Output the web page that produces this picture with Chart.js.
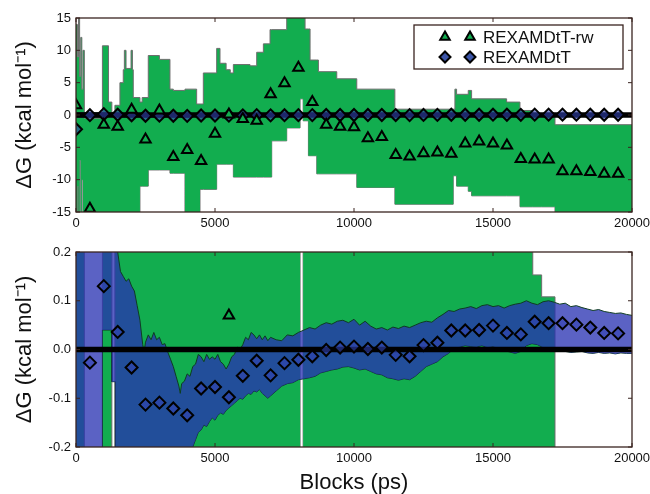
<!DOCTYPE html>
<html lang="en">
<head>
<meta charset="UTF-8" />
<title>Block free energies</title>
<style>
  body { margin: 0; background: #fff; }
  canvas { position: absolute; left: 0; }
  #topPanel { top: 0; }
  #bottomPanel { top: 232px; }
</style>
</head>
<body>

<canvas id="topPanel" width="650" height="232"></canvas>
<canvas id="bottomPanel" width="650" height="262"></canvas>

<script src="https://cdn.jsdelivr.net/npm/chart.js"></script>
<script>
  // ---- data ----
  const xTicks = [0, 5000, 10000, 15000, 20000];
  const topYTicks = [-15, -10, -5, 0, 5, 10, 15];
  const topYLabels = ['-15', '-10', '-5', '0', '5', '10', '15'];
  const bottomYTicks = [-0.2, -0.1, 0, 0.1, 0.2];
  const bottomYLabels = ['-0.2', '-0.1', '0.0', '0.1', '0.2'];

  // block end times (ps)
  const blockX = [0, 500, 1000, 1500, 2000, 2500, 3000, 3500, 4000, 4500,
    5000, 5500, 6000, 6500, 7000, 7500, 8000, 8500, 9000, 9500,
    10000, 10500, 11000, 11500, 12000, 12500, 13000, 13500, 14000, 14500,
    15000, 15500, 16000, 16500, 17000, 17500, 18000, 18500, 19000, 19500];

  // REXAMDtT-rw (triangles)
  const rwDeltaG = [1.5, -14.5, -1.5, -1.8, 0.8, -3.8, 0.7, -6.5, -5.4, -7.1,
    -2.9, 0.07, -0.6, -0.9, 3.2, 4.9, 7.3, 2.0, -1.5, -1.8,
    -1.9, -3.6, -3.4, -6.2, -6.4, -5.9, -5.8, -6.0, -4.4, -4.1,
    -4.4, -4.7, -6.8, -6.9, -6.9, -8.7, -8.7, -8.8, -9.1, -9.1];

  // REXAMDtT (diamonds)
  const tDeltaG = [-2.2, -0.027, 0.13, 0.036, -0.037, -0.113, -0.109, -0.121, -0.135, -0.080,
    -0.077, -0.098, -0.054, -0.023, -0.053, -0.028, -0.021, -0.014, -0.001, 0.004,
    0.006, 0.001, 0.004, -0.011, -0.014, 0.009, 0.014, 0.039, 0.039, 0.040,
    0.049, 0.034, 0.031, 0.057, 0.054, 0.054, 0.051, 0.045, 0.034, 0.033];

  // REXAMDtT-rw error envelope (each value holds until the next x)
  const greenX = [0, 50, 90, 130, 170, 210, 250, 300,
    950, 1170, 1290, 1400, 1580, 1700, 1740, 1800, 1980, 2030,
    2060, 2300, 2380, 2600, 3000, 3380, 3500, 3920, 4340, 4460,
    4580, 5060, 5180, 5400, 5550, 5660, 6260, 6500, 6740, 6980,
    7040, 7580, 8060, 8170, 8240, 8360, 8420, 8660, 8720, 9380,
    10100, 11470, 13570, 13630, 13690, 14110, 14230, 15490, 15970, 16430,
    16750, 17230, 20000];
  const greenUpper = [14, 9, 15.5, 6, 12, 4, 10, -0.5,
    10.7, 2, -0.3, 1.5, 5, 7, 10, 7.2, 10, 7,
    2.7, 2.0, 2.7, 9.2, 8.6, 4.0, 3.8, 4.0, 1.7, 1.7,
    6.5, 10.3, 8, 7, 6.5, 7.8, 7.6, 9.7, 11, 13.2,
    13.2, 15.5, 15.5, 15.5, 13.3, 13.3, 8.5, 8.5, 6.7, 5.6,
    4.0, 0.9, 0.9, 4.0, 3.2, 3.8, 2.5, 2.0, 0.7, 0.153,
    0.108, -1.5, -1.5];
  const greenLower = [-15.5, -11, -15.5, -7, -15.5, -10, -15.5, -15.5,
    -15.5, -15.5, -15.5, -15.5, -15.5, -15.5, -15.5, -15.5, -15.5, -15.5,
    -15.5, -11, -11, -8.5, -8.5, -9, -9, -15.5, -15.5, -11.5,
    -11.5, -7.6, -7.6, -7.6, -7.6, -9.6, -9.6, -9.6, -9.6, -9.6,
    -4, -2, 2.5, -0.9, -0.9, -6.3, -6.3, -9.1, -9.1, -9.1,
    -11.2, -13.8, -9.4, -9.4, -11, -11.8, -12.5, -12.5, -14.2, -14.2,
    -14.2, -16, -16];

  // REXAMDtT error envelope
  const blueX = [0, 945, 950, 1285, 1290, 1415, 1420,
    1460, 1500, 1600, 1700, 1800, 1900, 2000, 2100, 2200, 2300,
    2400, 2450, 2500, 2600, 2700, 2800, 2900, 3000, 3100, 3200,
    3300, 3400, 3500, 3600, 3700, 3750, 3800, 3900, 4000, 4100,
    4200, 4300, 4400, 4500, 4600, 4700, 4800, 4900, 5000, 5100,
    5200, 5300, 5400, 5500, 5600, 5700, 5800, 5900, 6000, 6100,
    6200, 6300, 6400, 6500, 6600, 6700, 6800, 6900,
    7000, 7200, 7400, 7600, 7800, 8000, 8200, 8400, 8600, 8800,
    9000, 9200, 9400, 9600, 9800, 10000, 10200, 10400, 10600, 10800,
    11000, 11200, 11400, 11600, 11800, 12000, 12200, 12400, 12600, 12800,
    13000, 13200, 13400, 13600, 13800, 14000, 14200, 14400, 14600, 14800,
    15000, 15200, 15400, 15600, 15800, 16000, 16200, 16400, 16600, 16800,
    17000, 17200, 17400, 17600, 17800, 18000, 18200, 18400, 18600, 18800,
    19000, 19200, 19400, 19600, 19800, 20000];
  const blueUpper = [0.35, 0.35, 0.35, 0.35, 0.35, 0.35, 0.35,
    0.25, 0.2, 0.16, 0.15, 0.14, 0.145, 0.13, 0.12, 0.09, 0.06,
    0.01, -0.005, 0.015, 0.03, 0.02, 0.035, 0.02, 0.025, 0.01, 0.012,
    -0.005, -0.02, -0.035, -0.055, -0.075, -0.09, -0.07, -0.065, -0.05, -0.055,
    -0.035, -0.03, -0.01, -0.015, -0.025, -0.01, -0.02, -0.015, -0.02, -0.01,
    -0.025, -0.03, -0.04, -0.03, -0.015, -0.01, 0.005, 0.0, 0.01, 0.025,
    0.02, 0.035, 0.03, 0.022, 0.03, 0.02, 0.028, 0.018,
    0.025, 0.02, 0.018, 0.03, 0.028, 0.035, 0.04, 0.045, 0.042, 0.05,
    0.055, 0.052, 0.058, 0.06, 0.055, 0.062, 0.05, 0.058, 0.048, 0.042,
    0.045, 0.04, 0.046, 0.043, 0.048, 0.045, 0.05, 0.055, 0.058, 0.056,
    0.065, 0.072, 0.08, 0.078, 0.083, 0.085, 0.088, 0.084, 0.09, 0.092,
    0.088, 0.09, 0.085, 0.09, 0.093, 0.095, 0.1, 0.095, 0.092, 0.098,
    0.1, 0.097, 0.093, 0.095, 0.088, 0.09, 0.086, 0.083, 0.08, 0.082,
    0.078, 0.076, 0.074, 0.075, 0.072, 0.07];
  const blueLower = [-0.35, -0.35, 0.04, 0.04, -0.066, -0.066, -0.35,
    -0.35, -0.35, -0.35, -0.35, -0.35, -0.35, -0.35, -0.35, -0.35, -0.35,
    -0.35, -0.35, -0.35, -0.35, -0.35, -0.35, -0.35, -0.35, -0.35, -0.35,
    -0.35, -0.35, -0.35, -0.35, -0.35, -0.35, -0.35, -0.35, -0.35, -0.35,
    -0.2, -0.185, -0.17, -0.165, -0.155, -0.158, -0.148, -0.14, -0.145, -0.135,
    -0.13, -0.133, -0.125, -0.12, -0.115, -0.11, -0.105, -0.1, -0.102, -0.095,
    -0.09, -0.092, -0.085, -0.087, -0.082, -0.09, -0.095, -0.1,
    -0.095, -0.085, -0.075, -0.07, -0.068, -0.062, -0.06, -0.058, -0.055, -0.048,
    -0.045, -0.042, -0.04, -0.036, -0.035, -0.038, -0.042, -0.04, -0.045, -0.05,
    -0.052, -0.058, -0.06, -0.063, -0.06, -0.062, -0.055, -0.045, -0.035, -0.03,
    -0.025, -0.015, -0.008, 0.002, 0.005, 0.008, 0.006, 0.005, 0.008, 0.004,
    0.006, 0.002, -0.002, -0.005, -0.008, -0.004, 0.008, 0.012, 0.01, 0.004,
    0.002, 0.0, -0.002, -0.004, -0.006, -0.005, -0.004, -0.007, -0.008, -0.006,
    -0.008, -0.007, -0.009, -0.007, -0.008, -0.008];

  // ---- styling ----
  const GREEN = '#12ad4f';
  const BLUE_FILL = 'rgba(40, 48, 178, 0.76)';
  const BLUE_FACE = 'rgba(50, 66, 178, 0.6)';
  const FRAME = '#3a2420';
  const TEXT = '#111';
  const FONT = 'Liberation Sans, Arial, sans-serif';

  Chart.defaults.font.family = FONT;
  Chart.defaults.color = TEXT;

  function pts(xs, ys) {
    return xs.map((x, i) => ({ x: x, y: ys[i] }));
  }

  function buildDatasets() {
    return [
      {
        label: 'REXAMDtT-rw', data: pts(blockX, rwDeltaG), showLine: false,
        pointStyle: 'triangle', pointRadius: 6, pointBorderWidth: 2,
        pointBackgroundColor: GREEN, pointBorderColor: '#000', clip: 0
      },
      {
        label: 'REXAMDtT', data: pts(blockX, tDeltaG), showLine: false,
        pointStyle: 'rectRot', pointRadius: 6, pointBorderWidth: 2,
        pointBackgroundColor: BLUE_FACE, pointBorderColor: '#000', clip: 0
      },
      {
        label: 'zero', data: [{ x: 0, y: 0 }, { x: 20000, y: 0 }],
        borderColor: '#000', borderWidth: 5.5, pointRadius: 0, clip: 0
      },
      {
        label: 'tUpper', data: pts(blueX, blueUpper), borderColor: '#0f3d22',
        borderWidth: 1, pointRadius: 0, fill: '+1', backgroundColor: BLUE_FILL, clip: 0
      },
      {
        label: 'tLower', data: pts(blueX, blueLower), borderColor: '#0f3d22',
        borderWidth: 1, pointRadius: 0, fill: false, clip: 0
      },
      {
        label: 'rwUpper', data: pts(greenX, greenUpper), stepped: 'before', borderColor: '#6e6e6e',
        borderWidth: 1, pointRadius: 0, fill: '+1', backgroundColor: GREEN, clip: 0
      },
      {
        label: 'rwLower', data: pts(greenX, greenLower), stepped: 'before', borderColor: '#6e6e6e',
        borderWidth: 1, pointRadius: 0, fill: false, clip: 0
      }
    ];
  }

  // frame with inward ticks on all four sides
  const framePlugin = {
    id: 'frame',
    afterDatasetsDraw(chart) {
      const { ctx, chartArea: a, scales: { x, y } } = chart;
      ctx.save();
      ctx.strokeStyle = FRAME;
      ctx.lineWidth = 1;
      ctx.beginPath();
      x.ticks.forEach(t => {
        const px = x.getPixelForValue(t.value);
        ctx.moveTo(px, a.bottom); ctx.lineTo(px, a.bottom - 4);
        ctx.moveTo(px, a.top); ctx.lineTo(px, a.top + 4);
      });
      y.ticks.forEach(t => {
        const py = y.getPixelForValue(t.value);
        ctx.moveTo(a.left, py); ctx.lineTo(a.left + 4, py);
        ctx.moveTo(a.right, py); ctx.lineTo(a.right - 4, py);
      });
      ctx.stroke();
      ctx.lineWidth = 1.3;
      ctx.strokeRect(a.left, a.top, a.right - a.left, a.bottom - a.top);
      ctx.restore();
    }
  };

  function drawMarker(ctx, style, cx, cy, r) {
    ctx.beginPath();
    if (style === 'triangle') {
      ctx.moveTo(cx, cy - r);
      ctx.lineTo(cx + r * 0.866, cy + r * 0.5);
      ctx.lineTo(cx - r * 0.866, cy + r * 0.5);
    } else {
      ctx.moveTo(cx, cy - r);
      ctx.lineTo(cx + r, cy);
      ctx.lineTo(cx, cy + r);
      ctx.lineTo(cx - r, cy);
    }
    ctx.closePath();
    ctx.fill();
    ctx.stroke();
  }

  const legendItems = [
    { text: 'REXAMDtT-rw', style: 'triangle', face: GREEN },
    { text: 'REXAMDtT', style: 'diamond', face: '#3c55a8' }
  ];

  const boxLegend = {
    id: 'boxLegend',
    afterDraw(chart) {
      const { ctx, chartArea: a } = chart;
      const w = 209, h = 44;
      const left = a.right - 9 - w, top = a.top + 7;
      ctx.save();
      ctx.fillStyle = '#fff';
      ctx.fillRect(left, top, w, h);
      ctx.strokeStyle = FRAME;
      ctx.lineWidth = 1.3;
      ctx.strokeRect(left, top, w, h);
      ctx.font = '17px ' + FONT;
      ctx.textBaseline = 'middle';
      legendItems.forEach((item, i) => {
        const cy = top + 12 + i * 20;
        ctx.fillStyle = item.face;
        ctx.strokeStyle = '#000';
        ctx.lineWidth = 2;
        drawMarker(ctx, item.style, left + 31, cy, 5.5);
        drawMarker(ctx, item.style, left + 56, cy, 5.5);
        ctx.fillStyle = TEXT;
        ctx.fillText(item.text, left + 69, cy + 1);
      });
      ctx.restore();
    }
  };

  function makePanel(id, opts) {
    return new Chart(document.getElementById(id), {
      type: 'line',
      data: { datasets: buildDatasets() },
      options: {
        responsive: false,
        animation: false,
        devicePixelRatio: 1,
        layout: { padding: { top: opts.padTop, right: 18, left: 0, bottom: 0 } },
        plugins: { legend: { display: false }, tooltip: { enabled: false } },
        scales: {
          x: {
            type: 'linear', min: 0, max: 20000,
            afterBuildTicks: s => { s.ticks = xTicks.map(v => ({ value: v })); },
            afterFit: s => { s.height = opts.xHeight; s.paddingLeft = 0; s.paddingRight = 0; },
            grid: { display: false, drawTicks: false },
            border: { display: false },
            ticks: { padding: 4, font: { size: 13 }, color: TEXT, maxRotation: 0, callback: v => String(v) },
            title: {
              display: opts.xTitle, text: 'Blocks (ps)', color: TEXT,
              font: { size: 22, lineHeight: 1 }, padding: { top: 0, bottom: 0 }
            }
          },
          y: {
            type: 'linear', min: opts.yMin, max: opts.yMax,
            afterBuildTicks: s => { s.ticks = opts.yTicks.map(v => ({ value: v })); },
            afterFit: s => { s.width = 76; },
            grid: { display: false, drawTicks: false },
            border: { display: false },
            ticks: { padding: 5, font: { size: 13 }, color: TEXT, callback: (v, i) => opts.yLabels[i] },
            title: {
              display: true, text: 'ΔG (kcal mol⁻¹)', color: TEXT,
              font: { size: 22, lineHeight: 1 }, padding: { top: 14, bottom: 0 }
            }
          }
        }
      },
      plugins: opts.legend ? [framePlugin, boxLegend] : [framePlugin]
    });
  }

  makePanel('topPanel', {
    padTop: 18, xHeight: 20, xTitle: false,
    yMin: -15, yMax: 15, yTicks: topYTicks, yLabels: topYLabels, legend: true
  });

  makePanel('bottomPanel', {
    padTop: 20, xHeight: 47, xTitle: true,
    yMin: -0.2, yMax: 0.2, yTicks: bottomYTicks, yLabels: bottomYLabels, legend: false
  });
</script>

</body>
</html>
